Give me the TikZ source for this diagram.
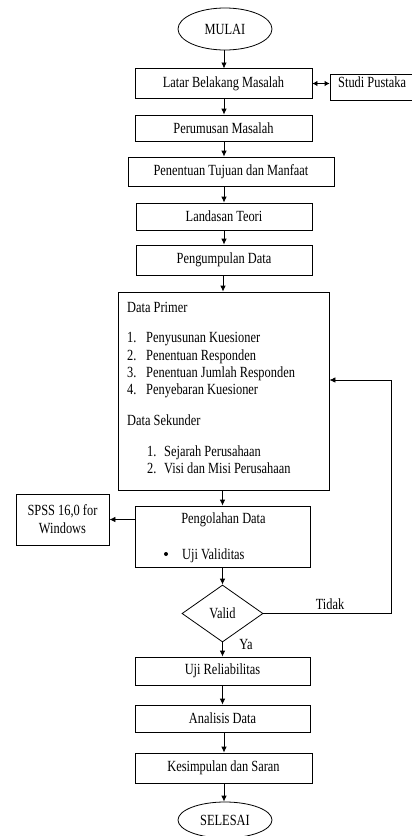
\documentclass[tikz,border=0pt]{standalone}
\usepackage{fontspec}
\setmainfont{Liberation Serif}[FakeStretch=0.8]
\usetikzlibrary{shapes.geometric,arrows.meta}
\begin{document}
\begin{tikzpicture}[x=1pt,y=-1pt,
  every node/.style={font=\fontsize{15.5}{19}\selectfont},
  box/.style={draw,line width=0.8pt,rectangle,inner sep=0pt},
  oval/.style={draw,line width=0.8pt,ellipse,inner sep=0pt},
  txt/.style={inner sep=0pt,anchor=base west},
  arr/.style={line width=0.8pt,-{Latex[length=6pt,width=5.5pt]}},
  darr/.style={line width=0.8pt,{Latex[length=5pt,width=5.5pt]}-{Latex[length=5pt,width=5.5pt]}}]
\useasboundingbox (0,0) rectangle (412,836);
\clip (0,0) rectangle (412,836);
\node[oval,minimum width=94,minimum height=42] (mulai) at (225,29) {MULAI};
\node[box,minimum width=177,minimum height=30] (latar) at (223.5,83.5) {Latar Belakang Masalah};
\node[box,minimum width=95,minimum height=26] (studi) at (377.5,87) {};
\node[txt] (studit) at (338,87) {Studi Pustaka};
\node[box,minimum width=177,minimum height=26] (rumus) at (223.5,128) {Perumusan Masalah};
\node[box,minimum width=206,minimum height=29] (tujuan) at (231,171.5) {Penentuan Tujuan dan Manfaat};
\node[box,minimum width=176,minimum height=27] (teori) at (224,216.5) {Landasan Teori};
\node[box,minimum width=176,minimum height=30] (kumpul) at (224,260) {Pengumpulan Data};
\node[box,minimum width=211,minimum height=198] (data) at (223.5,391) {};
\node[txt] (dp) at (127,312) {Data Primer};
\node[txt] (n1) at (127,342) {1.};
\node[txt] (t1) at (146,342) {Penyusunan Kuesioner};
\node[txt] (n2) at (127,360) {2.};
\node[txt] (t2) at (146,360) {Penentuan Responden};
\node[txt] (n3) at (127,377) {3.};
\node[txt] (t3) at (146,377) {Penentuan Jumlah Responden};
\node[txt] (n4) at (127,394) {4.};
\node[txt] (t4) at (146,394) {Penyebaran Kuesioner};
\node[txt] (ds) at (127,425) {Data Sekunder};
\node[txt] (m1) at (147,456) {1.};
\node[txt] (s1) at (164,456) {Sejarah Perusahaan};
\node[txt] (m2) at (147,473) {2.};
\node[txt] (s2) at (164,473) {Visi dan Misi Perusahaan};
\node[box,minimum width=175,minimum height=61] (olah) at (222.5,536.5) {};
\node[inner sep=0pt] (olaht) at (223.5,520) {Pengolahan Data};
\node[circle,fill,inner sep=0pt,minimum size=4pt] (bul) at (166,554) {};
\node[txt] (uji) at (182,559) {Uji Validitas};
\node[box,minimum width=93,minimum height=51,align=center] (spss) at (62.5,519.5) {SPSS 16,0 for\\[-1pt]Windows};
\node[draw,line width=0.8pt,diamond,aspect=1.42,minimum width=81,minimum height=57,inner sep=0pt] (valid) at (222.5,613.5) {Valid};
\node[box,minimum width=175,minimum height=28] (rel) at (222.5,671) {Uji Reliabilitas};
\node[box,minimum width=175,minimum height=27] (anal) at (222.5,718.5) {Analisis Data};
\node[box,minimum width=177,minimum height=30] (simp) at (223.5,768) {Kesimpulan dan Saran};
\node[oval,minimum width=94,minimum height=36] (selesai) at (225,820) {SELESAI};
\coordinate (fbA) at (391,613.5);
\coordinate (fbB) at (391,380);
\node[inner sep=0pt] (tidak) at (330,604) {Tidak};
\node[inner sep=0pt] (ya) at (246,644) {Ya};
\draw[arr] (224,50) -- (224,68.5);
\draw[arr] (latar.south -| 224,0) -- (rumus.north -| 224,0);
\draw[arr] (rumus.south -| 224,0) -- (tujuan.north -| 224,0);
\draw[arr] (tujuan.south -| 224,0) -- (teori.north -| 224,0);
\draw[arr] (teori.south -| 224,0) -- (kumpul.north -| 224,0);
\draw[arr] (kumpul.south -| 223,0) -- (data.north -| 223,0);
\draw[arr] (data.south -| 222.5,0) -- (olah.north -| 222.5,0);
\draw[arr] (olah.south -| 222.5,0) -- (valid.north);
\draw[arr] (valid.south) -- (rel.north -| valid.south);
\draw[arr] (rel.south) -- (anal.north);
\draw[arr] (anal.south -| 224,0) -- (simp.north -| 224,0);
\draw[arr] (simp.south -| 224,0) -- (selesai.north -| 224,0);
\draw[darr] (latar.east) -- (studi.west |- latar.east);
\draw[arr] (olah.west |- spss.east) -- (spss.east);
\draw[arr] (valid.east) -- (fbA) -- (fbB) -- (data.east |- fbB);
\end{tikzpicture}
\end{document}
